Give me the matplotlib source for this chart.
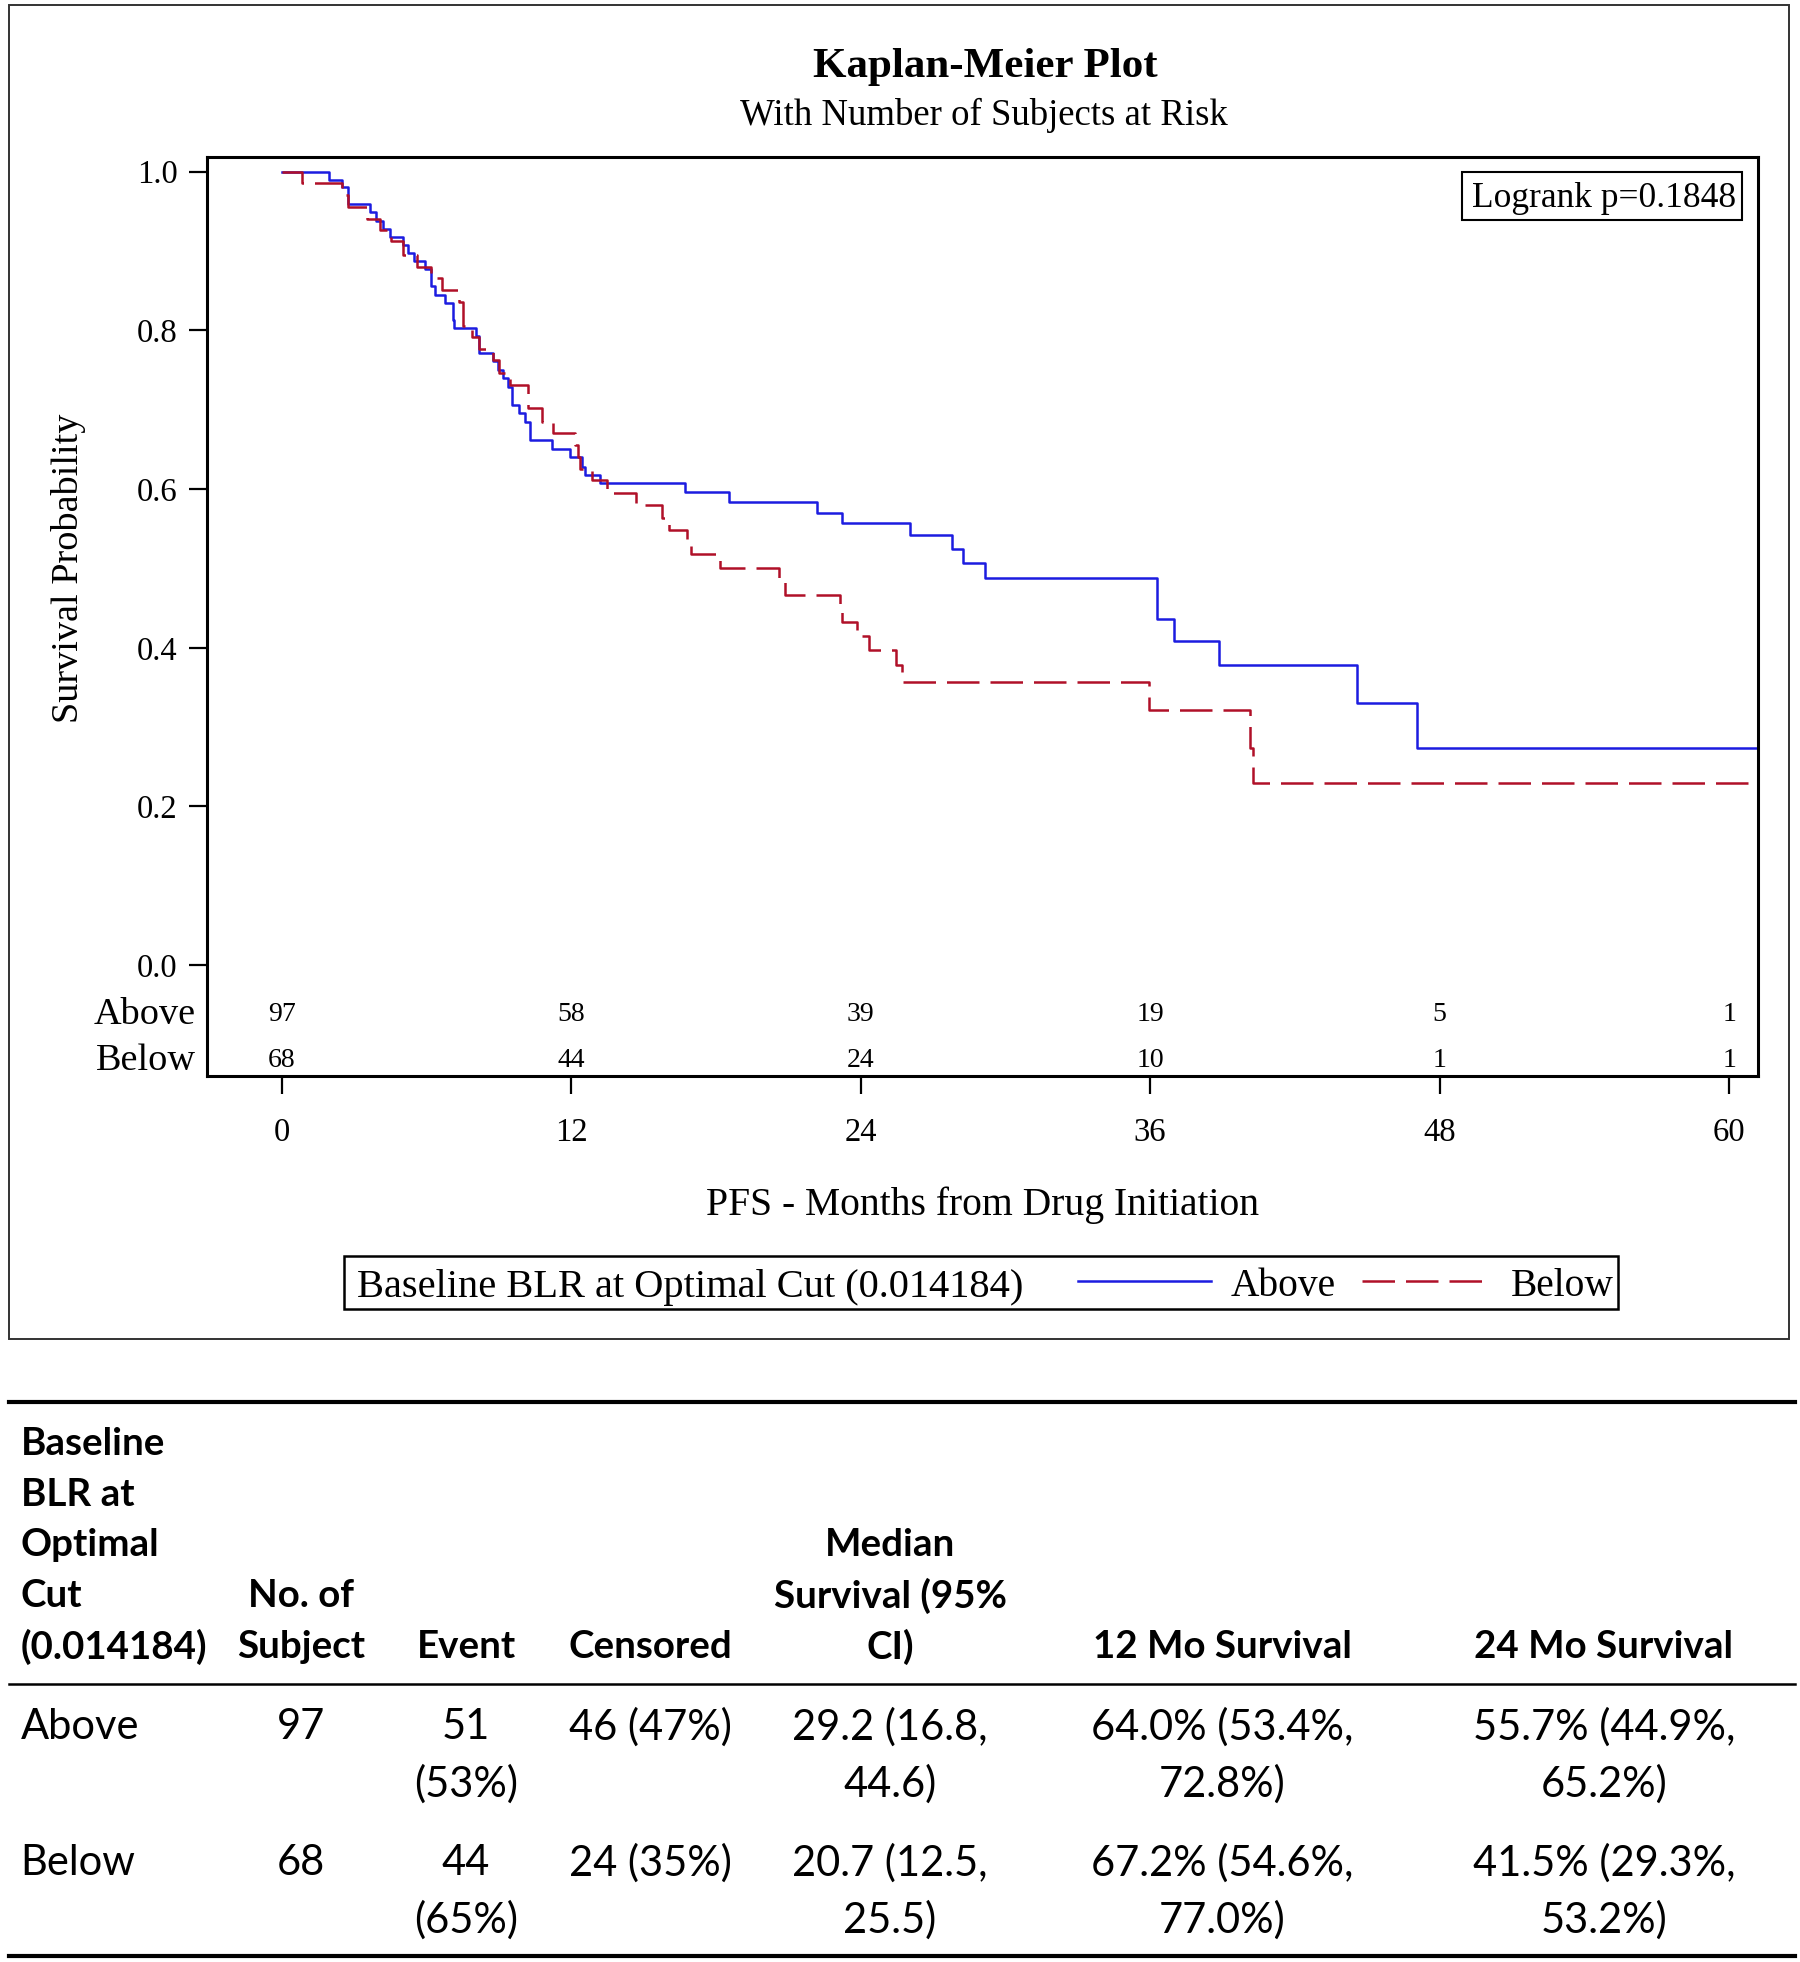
import numpy as np
import matplotlib.pyplot as plt
from matplotlib.lines import Line2D
from matplotlib.patches import Rectangle

# Kaplan-Meier steps (months, survival probability)
above_t = [0, 1.98, 2.49, 2.74, 3.67, 3.92, 4.22, 4.50, 5.05, 5.26, 5.50, 5.96, 6.19, 6.36,
           6.79, 7.10, 7.16, 8.04, 8.20, 8.76, 8.96, 9.19, 9.40, 9.54, 9.85, 10.09, 10.30,
           11.22, 11.95, 12.46, 12.57, 13.19, 16.74, 18.55, 22.18, 23.24, 26.05, 27.80,
           28.26, 29.15, 36.30, 36.99, 38.87, 44.56, 47.06, 61.2]
above_s = [1.0, 0.990, 0.980, 0.959, 0.949, 0.938, 0.928, 0.917, 0.907, 0.897, 0.887, 0.877,
           0.856, 0.845, 0.835, 0.813, 0.803, 0.793, 0.772, 0.761, 0.750, 0.740, 0.729, 0.706,
           0.696, 0.684, 0.662, 0.651, 0.640, 0.628, 0.618, 0.607, 0.596, 0.584, 0.570, 0.557,
           0.542, 0.524, 0.507, 0.488, 0.436, 0.409, 0.378, 0.330, 0.274, 0.274]

below_t = [0, 0.86, 2.49, 2.74, 3.54, 4.08, 4.54, 5.05, 5.60, 6.20, 6.64, 7.36, 7.53, 7.90,
           8.20, 8.77, 9.01, 9.47, 10.20, 10.78, 11.26, 12.16, 12.30, 12.37, 12.88, 13.47,
           14.71, 15.78, 16.06, 16.80, 16.99, 18.17, 20.62, 20.86, 23.16, 23.24, 23.84, 24.35,
           25.46, 25.73, 35.96, 40.12, 40.26, 61.2]
below_s = [1.0, 0.985, 0.971, 0.956, 0.940, 0.926, 0.912, 0.895, 0.880, 0.866, 0.851, 0.836,
           0.806, 0.791, 0.776, 0.762, 0.746, 0.731, 0.702, 0.684, 0.671, 0.656, 0.640, 0.625,
           0.611, 0.595, 0.580, 0.564, 0.549, 0.533, 0.518, 0.501, 0.484, 0.467, 0.450, 0.432,
           0.415, 0.397, 0.378, 0.357, 0.321, 0.274, 0.229, 0.229]

risk_times = [0, 12, 24, 36, 48, 60]
risk_above = [97, 58, 39, 19, 5, 1]
risk_below = [68, 44, 24, 10, 1, 1]
y_ticks = [0.0, 0.2, 0.4, 0.6, 0.8, 1.0]

# summary table
header = [["Baseline", "BLR at", "Optimal", "Cut", "(0.014184)"],
          ["No. of", "Subject"], ["Event"], ["Censored"],
          ["Median", "Survival (95%", "CI)"], ["12 Mo Survival"], ["24 Mo Survival"]]
row_above = [["Above"], ["97"], ["51", "(53%)"], ["46 (47%)"], ["29.2 (16.8,", "44.6)"],
             ["64.0% (53.4%,", "72.8%)"], ["55.7% (44.9%,", "65.2%)"]]
row_below = [["Below"], ["68"], ["44", "(65%)"], ["24 (35%)"], ["20.7 (12.5,", "25.5)"],
             ["67.2% (54.6%,", "77.0%)"], ["41.5% (29.3%,", "53.2%)"]]

BLUE = '#1c1ce0'
RED = '#b01028'
SERIF = 'Liberation Serif'
SANS = 'Lato'

W, H = 1800, 1962
fig = plt.figure(figsize=(W / 100, H / 100), dpi=100)


def fx(px):
    return px / W


def fy(py):
    return 1 - py / H


# plot area, in pixels of the full picture
L, R, T, B = 206.7, 1758, 157.3, 1076
ax = fig.add_axes([fx(L), fy(B), (R - L) / W, (B - T) / H])
ax.step(above_t, above_s, where='post', color=BLUE, lw=1.8)
ax.step(below_t, below_s, where='post', color=RED, lw=1.8, dashes=(13, 4.4))
ax.set_xlim(-3.10, 61.19)
ax.set_ylim(-0.1396, 1.018)

ax.set_yticks(y_ticks)
ax.set_yticklabels(['%.1f' % v for v in y_ticks], fontsize=23.5, family=SERIF)
ax.set_xticks(risk_times)
ax.set_xticklabels([str(v) for v in risk_times], fontsize=23.5, family=SERIF)
ax.tick_params(axis='both', direction='out', length=13, width=1.6)
ax.tick_params(axis='x', pad=17)
ax.tick_params(axis='y', pad=8)
for sp in ax.spines.values():
    sp.set_linewidth(2.2)

# numbers at risk inside the frame
for t, a, b in zip(risk_times, risk_above, risk_below):
    ax.text(t, -0.0625, str(a), ha='center', va='center', fontsize=20, family=SERIF)
    ax.text(t, -0.1205, str(b), ha='center', va='center', fontsize=20, family=SERIF)
ax.text(-3.55, -0.0625, 'Above', ha='right', va='center', fontsize=27.5, family=SERIF,
        clip_on=False)
ax.text(-3.55, -0.1205, 'Below', ha='right', va='center', fontsize=27.5, family=SERIF,
        clip_on=False)

# titles and axis labels
fig.text(fx(985), fy(67), 'Kaplan-Meier Plot', ha='center', va='center', fontsize=31,
         weight='bold', family=SERIF)
fig.text(fx(984), fy(115), 'With Number of Subjects at Risk', ha='center', va='center',
         fontsize=26.5, family=SERIF)
fig.text(fx(69), fy(568), 'Survival Probability', rotation=90, ha='center', va='center',
         fontsize=27.5, family=SERIF)
fig.text(fx(983), fy(1205), 'PFS - Months from Drug Initiation', ha='center', va='center',
         fontsize=28.5, family=SERIF)

# logrank box
fig.add_artist(Rectangle((fx(1462), fy(220)), (1742 - 1462) / W, (220 - 172) / H,
                         transform=fig.transFigure, fill=False, lw=1.5, ec='black'))
fig.text(fx(1472), fy(198), 'Logrank p=0.1848', ha='left', va='center', fontsize=25.5,
         family=SERIF)

# legend
fig.add_artist(Rectangle((fx(344), fy(1309)), (1618 - 344) / W, (1309 - 1256) / H,
                         transform=fig.transFigure, fill=False, lw=1.8, ec='black'))
fig.text(fx(357), fy(1287), 'Baseline BLR at Optimal Cut (0.014184)', ha='left', va='center',
         fontsize=29.2, family=SERIF)
fig.add_artist(Line2D([fx(1078), fx(1211)], [fy(1281), fy(1281)], color=BLUE, lw=1.8,
                      transform=fig.transFigure))
fig.text(fx(1231), fy(1287), 'Above', ha='left', va='center', fontsize=28.4, family=SERIF)
fig.add_artist(Line2D([fx(1362), fx(1485)], [fy(1281), fy(1281)], color=RED, lw=1.8,
                      dashes=(13, 4.4), transform=fig.transFigure))
fig.text(fx(1511), fy(1287), 'Below', ha='left', va='center', fontsize=28.4, family=SERIF)

# outer frame round the graph
fig.add_artist(Rectangle((fx(9), fy(1339)), (1789 - 9) / W, (1339 - 5) / H,
                         transform=fig.transFigure, fill=False, lw=1.4, ec='#333333'))

# table
col_x = [20.7, 301, 466, 650, 890, 1222, 1604]
for y, lw in [(1402, 3.0), (1684, 1.8), (1956, 3.0)]:
    fig.add_artist(Line2D([fx(9), fx(1795)], [fy(y), fy(y)], color='black', lw=lw,
                          transform=fig.transFigure))

for i, cell in enumerate(header):
    n = len(cell)
    for j, line in enumerate(cell):
        y = 1647 - (n - 1 - j) * 50.8
        fig.text(fx(col_x[i]), fy(y), line, ha='left' if i == 0 else 'center', va='center',
                 fontsize=27.7, weight='bold', family=SANS)

for row, y0 in [(row_above, 1727), (row_below, 1863)]:
    for i, cell in enumerate(row):
        for j, line in enumerate(cell):
            fig.text(fx(col_x[i]), fy(y0 + j * 57), line, ha='left' if i == 0 else 'center',
                     va='center', fontsize=30, family=SANS)

fig.savefig('out.png', dpi=100)
